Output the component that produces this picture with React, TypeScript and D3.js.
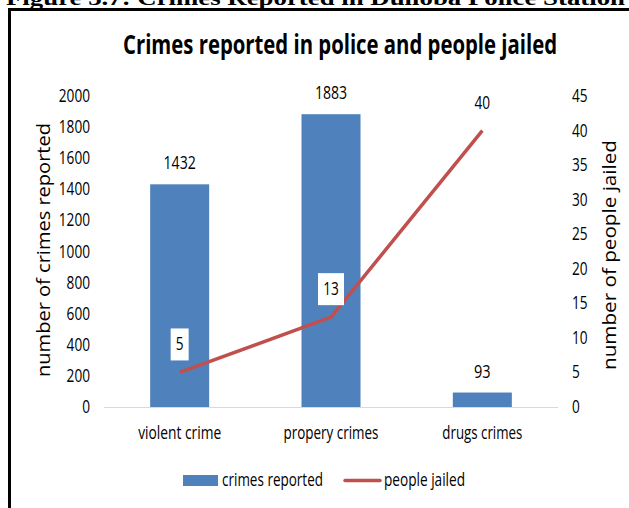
import React from "react";
import * as d3 from "d3";

const categories = ["violent crime", "propery crimes", "drugs crimes"];
const crimesReported = [1432, 1883, 93];
const peopleJailed = [5, 13, 40];
const leftTicks = [0, 200, 400, 600, 800, 1000, 1200, 1400, 1600, 1800, 2000];
const rightTicks = [0, 5, 10, 15, 20, 25, 30, 35, 40, 45];

const W = 629;
const H = 508;
const FONT = "'Open Sans', 'Liberation Sans', sans-serif";
const BAR = "#4F81BD";
const LINE = "#C0504D";
const DIGIT = 7.8;
const FS = 17.5;

const catWidth: Record<string, number> = {
  "violent crime": 83,
  "propery crimes": 95,
  "drugs crimes": 80,
};

export default function App() {
  const yL = d3.scaleLinear().domain([0, 2000]).range([407, 96]);
  const yR = d3.scaleLinear().domain([0, 45]).range([407, 96]);
  const x = d3.scalePoint<string>().domain(categories).range([104, 558]).padding(0.5);
  const bw = x.step() * 0.39;
  const line = d3
    .line<number>()
    .x((_, i) => x(categories[i]) as number)
    .y((d) => yR(d));

  const num = (v: number) => String(v).length * DIGIT;

  return (
    <svg
      width={W}
      height={H}
      style={{ position: "absolute", left: 0, top: 0, background: "#fff" }}
      fontFamily={FONT}
    >
      <rect x={0} y={0} width={W} height={H} fill="#fff" />
      {/* caption cut off at top */}
      <text
        x={6}
        y={5}
        fontFamily="'Liberation Serif', 'Times New Roman', serif"
        fontWeight="bold"
        fontSize={22}
        textLength={619}
        lengthAdjust="spacingAndGlyphs"
        fill="#000"
      >
        Figure 3.7: Crimes Reported in Dulloba Police Station
      </text>
      {/* frame */}
      <line x1={8} x2={W} y1={9.5} y2={9.5} stroke="#000" strokeWidth={3} />
      <line x1={9.5} x2={9.5} y1={8} y2={H} stroke="#000" strokeWidth={3} />

      {/* title */}
      <text
        x={340}
        y={54}
        textAnchor="middle"
        fontWeight="bold"
        fontSize={26}
        textLength={434}
        lengthAdjust="spacingAndGlyphs"
        fill="#000"
      >
        Crimes reported in police and people jailed
      </text>

      {/* left ticks */}
      {leftTicks.map((t) => (
        <text
          key={"l" + t}
          x={90}
          y={yL(t) + 6}
          textAnchor="end"
          fontSize={FS}
          textLength={num(t)}
          lengthAdjust="spacingAndGlyphs"
          fill="#000"
        >
          {t}
        </text>
      ))}
      {/* right ticks */}
      {rightTicks.map((t) => (
        <text
          key={"r" + t}
          x={572}
          y={yR(t) + 6}
          textAnchor="start"
          fontSize={FS}
          textLength={num(t)}
          lengthAdjust="spacingAndGlyphs"
          fill="#000"
        >
          {t}
        </text>
      ))}

      {/* axis titles */}
      <text
        transform="translate(50,250) rotate(-90)"
        textAnchor="middle"
        fontSize={18}
        textLength={254}
        lengthAdjust="spacingAndGlyphs"
        fill="#000"
      >
        number of crimes reported
      </text>
      <text
        transform="translate(616,255) rotate(-90)"
        textAnchor="middle"
        fontSize={18}
        textLength={230}
        lengthAdjust="spacingAndGlyphs"
        fill="#000"
      >
        number of people jailed
      </text>

      {/* bars */}
      {crimesReported.map((v, i) => {
        const cx = x(categories[i]) as number;
        return <rect key={"b" + i} x={cx - bw / 2} y={yL(v)} width={bw} height={yL(0) - yL(v)} fill={BAR} />;
      })}

      {/* baseline */}
      <line x1={104} x2={558} y1={407.5} y2={407.5} stroke="#D9D9D9" strokeWidth={1} />

      {/* bar labels */}
      {crimesReported.map((v, i) => {
        const cx = x(categories[i]) as number;
        return (
          <text
            key={"bl" + i}
            x={cx}
            y={yL(v) - 15}
            textAnchor="middle"
            fontSize={FS}
            textLength={num(v) + 1}
            lengthAdjust="spacingAndGlyphs"
            fill="#000"
          >
            {v}
          </text>
        );
      })}

      {/* line */}
      <path d={line(peopleJailed) || ""} fill="none" stroke={LINE} strokeWidth={3.5} strokeLinejoin="round" />

      {/* line labels */}
      {peopleJailed.map((v, i) => {
        const cx = x(categories[i]) as number;
        const cy = yR(v) - 28;
        const w = String(v).length * 8 + 10;
        return (
          <g key={"ll" + i}>
            <rect x={cx - w / 2} y={cy - 16} width={w} height={32} fill="#fff" />
            <text
              x={cx}
              y={cy + 6}
              textAnchor="middle"
              fontSize={FS}
              textLength={num(v)}
              lengthAdjust="spacingAndGlyphs"
              fill="#000"
            >
              {v}
            </text>
          </g>
        );
      })}

      {/* category labels */}
      {categories.map((c) => (
        <text
          key={c}
          x={x(c) as number}
          y={439}
          textAnchor="middle"
          fontSize={FS}
          textLength={catWidth[c]}
          lengthAdjust="spacingAndGlyphs"
          fill="#000"
        >
          {c}
        </text>
      ))}

      {/* legend */}
      <rect x={183} y={475} width={35} height={11} fill={BAR} />
      <text x={222} y={486} fontSize={FS} textLength={101} lengthAdjust="spacingAndGlyphs" fill="#000">
        crimes reported
      </text>
      <line x1={345} x2={380} y1={480.5} y2={480.5} stroke={LINE} strokeWidth={3.5} strokeLinecap="round" />
      <text x={384} y={486} fontSize={FS} textLength={81} lengthAdjust="spacingAndGlyphs" fill="#000">
        people jailed
      </text>
    </svg>
  );
}
